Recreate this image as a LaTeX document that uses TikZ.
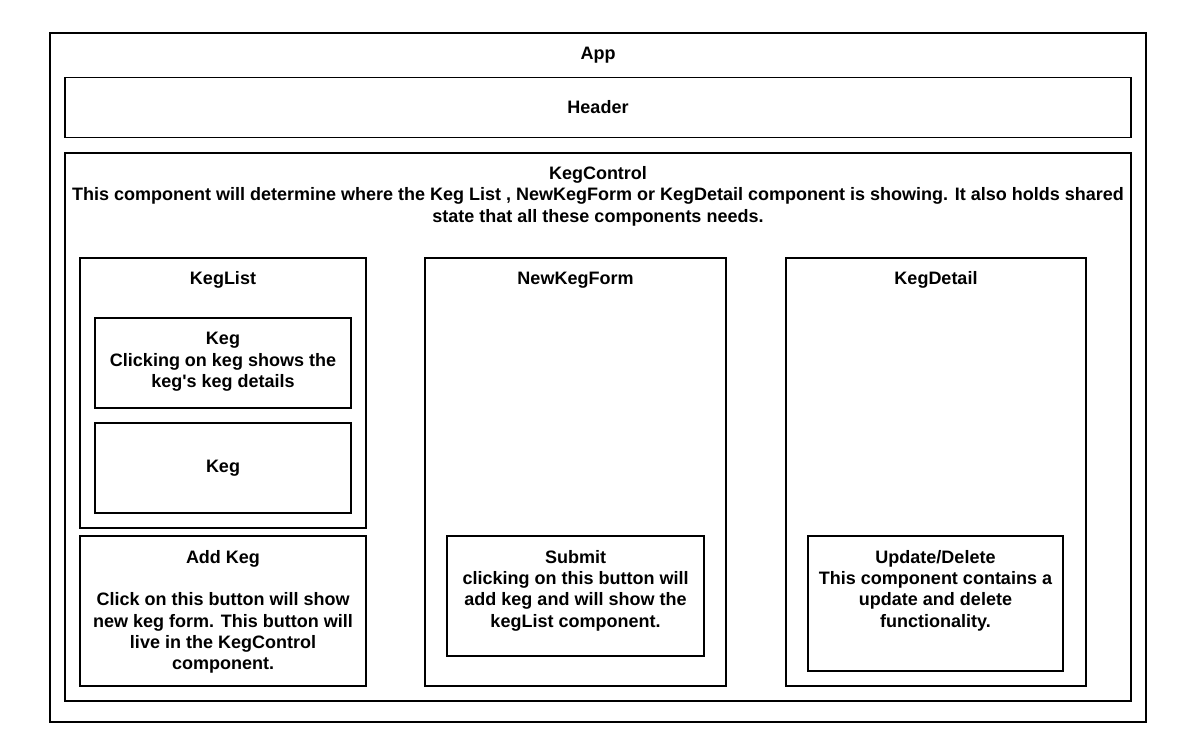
\documentclass[tikz,border=0pt]{standalone}
\usepackage{fontspec}
\setmainfont{Liberation Sans}
\usetikzlibrary{positioning}

\begin{document}
\begin{tikzpicture}[x=1pt,y=-1pt]
    \tikzstyle{box}=[draw,line width=1.2pt,inner sep=0pt]
    \tikzstyle{txt}=[font=\bfseries\fontsize{18}{21.3}\selectfont,align=center,inner sep=0pt]

    \useasboundingbox (0,0) rectangle (1189,754);

    % outer frames
    \node[box,minimum width=1096pt,minimum height=689pt] (app) at (598,377.5) {};
    \node[txt,below=14.5pt of app.north] (apptxt) {App};

    \node[box,txt,minimum width=1066pt,minimum height=60pt] (header) at (598,107.5) {Header};

    \node[box,minimum width=1066pt,minimum height=548pt] (kegctl) at (598,427) {};
    \node[txt,below=14pt of kegctl.north] (kegctltxt)
      {KegControl\\This component will determine where the Keg List , NewKegForm or KegDetail component is showing. It also holds shared\\state that all these components needs.};

    % keg list column
    \node[box,minimum width=286pt,minimum height=270pt] (keglist) at (223,393) {};
    \node[txt,below=14pt of keglist.north] (keglisttxt) {KegList};

    \node[box,minimum width=256pt,minimum height=90pt] (keg1) at (223,363) {};
    \node[txt,below=15pt of keg1.north] (keg1txt)
      {Keg\\Clicking on keg shows the\\keg\textquotesingle s keg details};

    \node[box,txt,minimum width=256pt,minimum height=90pt] (keg2) at (223,468) {Keg};

    \node[box,minimum width=286pt,minimum height=150pt] (addkeg) at (223,611) {};
    \node[txt,below=14.5pt of addkeg.north] (addkegtxt)
      {Add Keg\\~\\Click on this button will show\\new keg form. This button will\\live in the KegControl\\component.};

    % new keg form column
    \node[box,minimum width=301pt,minimum height=428pt] (newform) at (575.5,472) {};
    \node[txt,below=14.5pt of newform.north] (newformtxt) {NewKegForm};

    \node[box,minimum width=257pt,minimum height=120pt] (submit) at (575.5,596) {};
    \node[txt,below=14.5pt of submit.north] (submittxt)
      {Submit\\clicking on this button will\\add keg and will show the\\kegList component.};

    % keg detail column
    \node[box,minimum width=300pt,minimum height=428pt] (detail) at (936,472) {};
    \node[txt,below=14pt of detail.north] (detailtxt) {KegDetail};

    \node[box,minimum width=255pt,minimum height=135pt] (upd) at (935.5,603.5) {};
    \node[txt,below=14.5pt of upd.north] (updtxt)
      {Update/Delete\\This component contains a\\update and delete\\functionality.};
\end{tikzpicture}
\end{document}
